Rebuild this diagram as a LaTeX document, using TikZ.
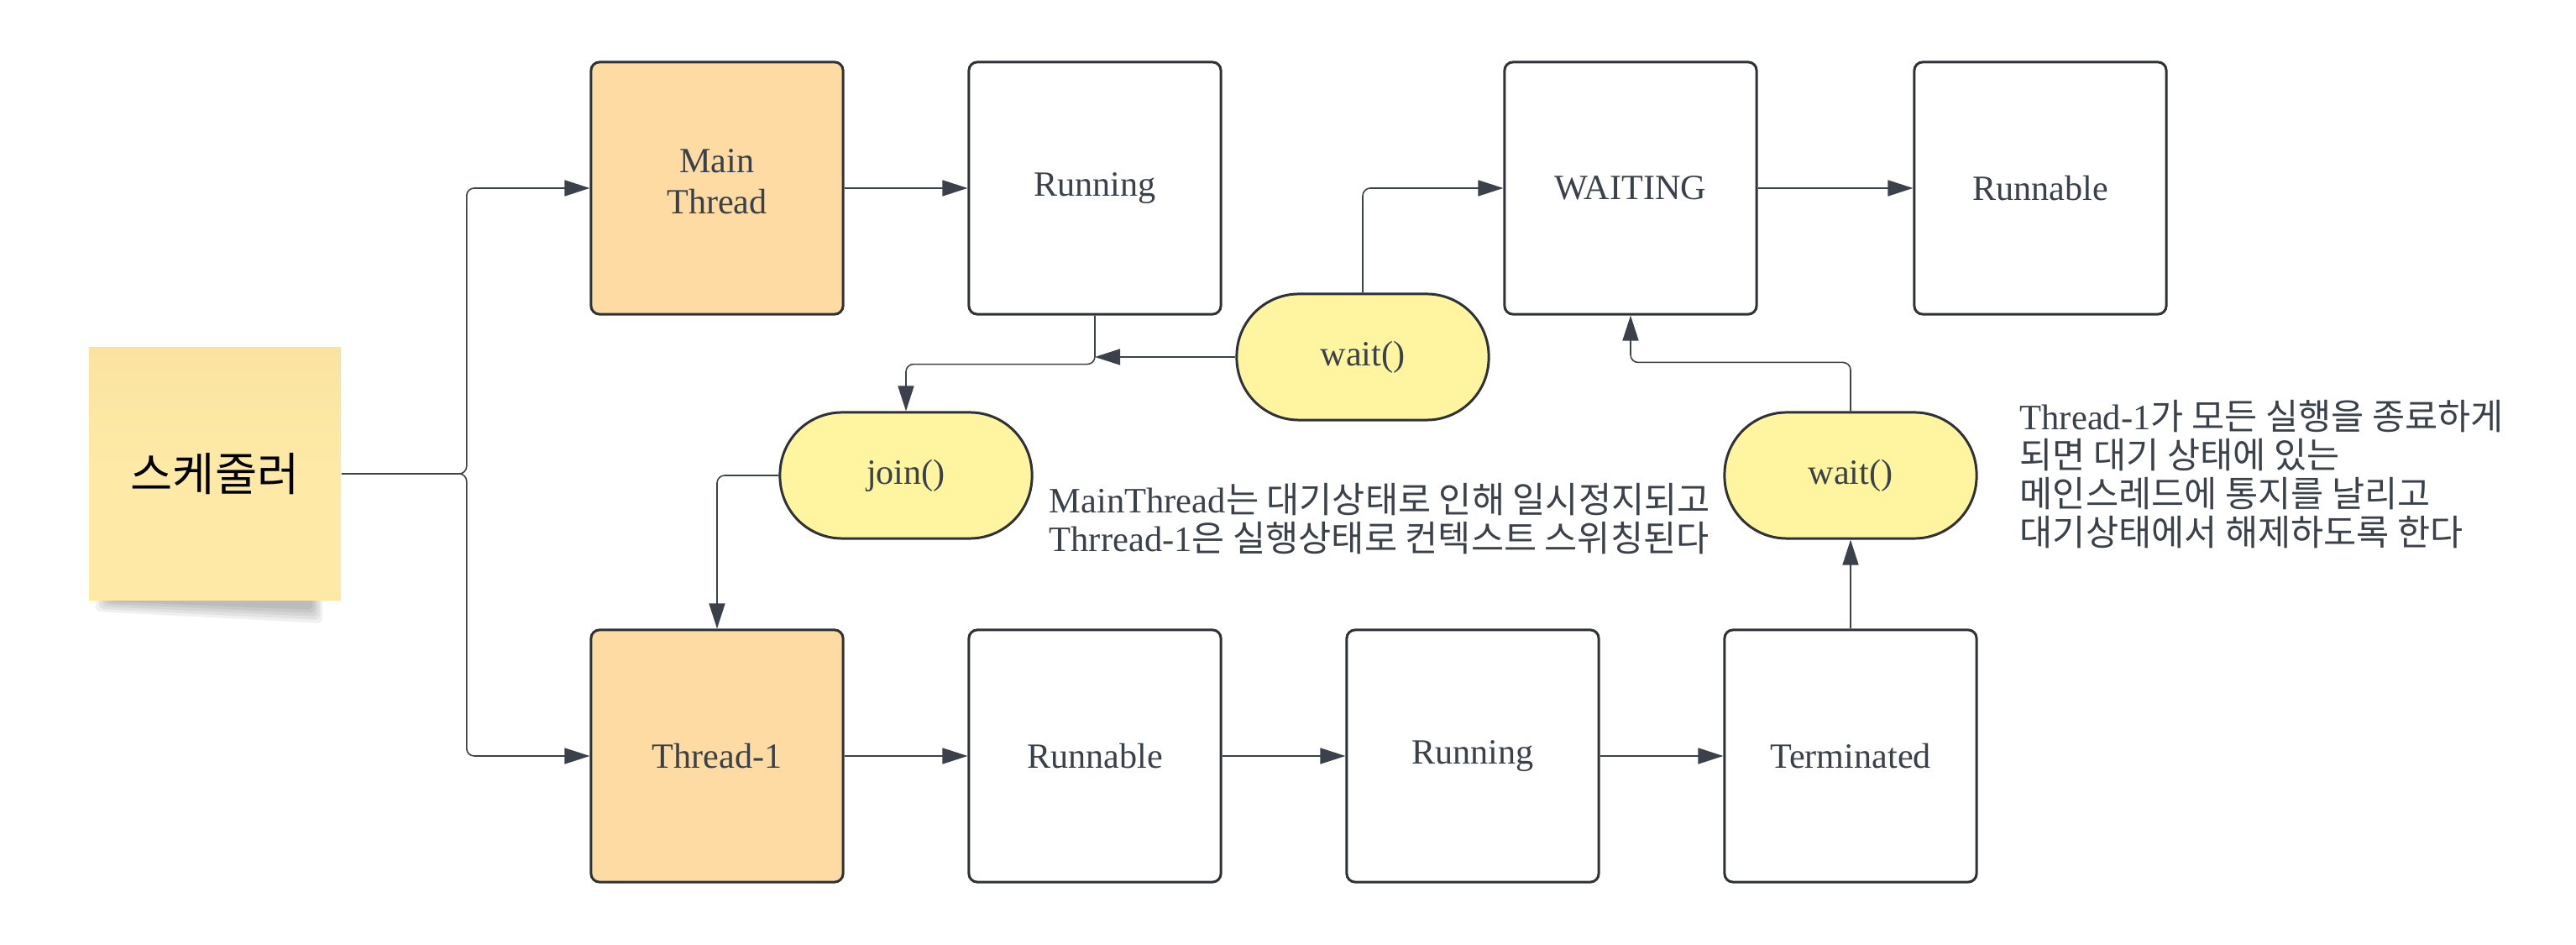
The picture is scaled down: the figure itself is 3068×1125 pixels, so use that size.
\documentclass[tikz,border=0pt]{standalone}
\usepackage{fontspec}
\setmainfont{Liberation Serif}
\newfontfamily\kr{Noto Sans CJK KR}
\usetikzlibrary{arrows.meta}

\definecolor{edge}{HTML}{2E3238}
\definecolor{ink}{HTML}{3A414A}
\definecolor{thrfill}{HTML}{FDDBA3}
\definecolor{callfill}{HTML}{FFF5A0}
\definecolor{notefill}{HTML}{FEEAA6}
\definecolor{notetop}{HTML}{FAE3A0}

\tikzset{
  state/.style={draw=edge, line width=0.85pt, rounded corners=0.1cm, fill=white,
    minimum width=3cm, minimum height=3cm, inner sep=0pt, align=center,
    text=ink, font=\fontsize{12}{14}\selectfont},
  thread/.style={state, fill=thrfill},
  call/.style={draw=edge, line width=0.85pt, rounded corners=0.74cm, fill=callfill,
    minimum width=3cm, minimum height=1.5cm, inner sep=0pt,
    text=ink, font=\fontsize{12}{14}\selectfont},
  sticky/.style={top color=notetop, bottom color=notefill, middle color=notefill,
    minimum width=3cm, minimum height=3.01cm, inner sep=0pt,
    font=\kr\fontsize{15.5}{18}\selectfont},
  memo/.style={anchor=base west, align=left, inner sep=0pt, text=ink,
    font=\kr\fontsize{12.1}{13.1}\selectfont},
  conn/.style={draw=ink, line width=0.45pt, rounded corners=0.09cm,
    -{Triangle[length=0.3cm, width=0.19cm]}}
}

\begin{document}
\begin{tikzpicture}[x=0.01cm, y=-0.01cm]
  \useasboundingbox (0,0) rectangle (3068,1125);

  % scheduler note with its shadow
  \foreach \i in {0,...,4}
    \fill[black, opacity=0.06, rounded corners=0.06cm]
      (114+4*\i,705) -- (384-3*\i,705) -- (384-3*\i,742-4*\i) -- (114+4*\i,728-3*\i) -- cycle;
  \node[sticky] (sched) at (256,564) {스케줄러};

  % states
  \node[thread] (mainT) at (854,224) {Main\\Thread\rule[-4.6pt]{0pt}{0pt}};
  \node[state] (runA) at (1304,224) {Running};
  \node[state] (waiting) at (1942,224) {WAITING};
  \node[state] (runB) at (2430,224) {Runnable};

  \node[thread] (thr) at (854,900) {Thread-1};
  \node[state] (runC) at (1304,900) {Runnable};
  \node[state] (runD) at (1754,900) {Running};
  \node[state] (term) at (2204,900) {Terminated};

  % calls
  \node[call] (join) at (1079,566) {join()};
  \node[call] (waitA) at (1623,425) {wait()};
  \node[call] (waitB) at (2204,566) {wait()};

  % notes (placed at the baseline of their last line)
  \node[memo] (noteL) at (1249,657) {{\rmfamily MainThread}는 대기상태로 인해 일시정지되고\\{\rmfamily Thrread-1}은 실행상태로 컨텍스트 스위칭된다};
  \node[memo] (noteR) at (2405,650) {{\rmfamily Thread-1}가 모든 실행을 종료하게\\되면 대기 상태에 있는\\메인스레드에 통지를 날리고\\대기상태에서 해제하도록 한다};

  % connectors
  \draw[conn] (sched.east) -- ++(149,0) |- (mainT.west);
  \draw[conn] (sched.east) -- ++(149,0) |- (thr.west);
  \draw[conn] (mainT) -- (runA);
  \draw[conn] (runA.south) -- ++(0,58) -| (join.north);
  \draw[conn] (waitA.west) -- (runA.south |- waitA.west);
  \draw[conn] (waitA.north) |- (waiting.west);
  \draw[conn] (waiting) -- (runB);
  \draw[conn] (join.west) -| (thr.north);
  \draw[conn] (thr) -- (runC);
  \draw[conn] (runC) -- (runD);
  \draw[conn] (runD) -- (term);
  \draw[conn] (term) -- (waitB);
  \draw[conn] (waitB.north) -- ++(0,-58) -| (waiting.south);
\end{tikzpicture}
\end{document}
